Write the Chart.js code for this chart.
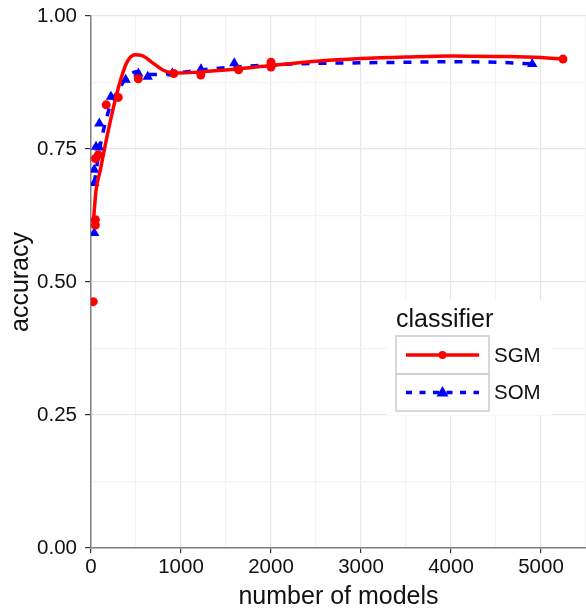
<!DOCTYPE html>
<html>
<head>
<meta charset="utf-8">
<script src="https://cdn.jsdelivr.net/npm/chart.js@4/dist/chart.umd.min.js"></script>
<style>
  html, body { margin: 0; padding: 0; background: #fff; }
  #wrap { width: 586px; height: 608px; position: relative; }
</style>
</head>
<body>
<div id="wrap"><canvas id="c"></canvas></div>
<script>
// observed points
const sgmModels = [25, 49, 49, 49, 81, 169, 303, 525, 920, 1220, 1640, 2000, 2000, 5244];
const sgmAcc    = [0.463, 0.607, 0.617, 0.732, 0.739, 0.833, 0.847, 0.882, 0.892, 0.889, 0.899, 0.904, 0.913, 0.919];
const somModels = [36, 36, 36, 56, 92, 92, 222, 385, 526, 630, 903, 1222, 1592, 2008, 4903];
const somAcc    = [0.592, 0.686, 0.711, 0.754, 0.753, 0.798, 0.848, 0.880, 0.892, 0.886, 0.892, 0.900, 0.911, 0.910, 0.910];

// smoothed curves
const sgmSmoothX = [25, 56, 100, 170, 245, 322, 396, 489, 560, 692, 803, 880, 1000, 1300, 1600, 2000, 2500, 3000, 3500, 4000, 4500, 5000, 5244];
const sgmSmoothY = [0.610, 0.672, 0.708, 0.767, 0.825, 0.876, 0.912, 0.927, 0.926, 0.911, 0.898, 0.894, 0.893, 0.896, 0.900, 0.907, 0.915, 0.920, 0.923, 0.925, 0.924, 0.922, 0.919];
const somSmoothX = [36, 100, 211, 303, 400, 507, 674, 900, 1200, 1500, 2000, 2500, 3000, 3500, 4000, 4500, 4903];
const somSmoothY = [0.686, 0.754, 0.830, 0.860, 0.885, 0.895, 0.890, 0.892, 0.898, 0.903, 0.908, 0.911, 0.912, 0.913, 0.914, 0.913, 0.910];

const seriesNames = ['SGM', 'SOM'];
const legendTitle = 'classifier';

const RED = '#ff0000', BLUE = '#0000ff';
const FONT = "'Liberation Sans', Arial, Helvetica, sans-serif";
const TXT = '#111';

function pts(xs, ys) { return xs.map((x, i) => ({ x: x, y: ys[i] })); }
function isQuarter(v) { return Math.abs(v * 4 - Math.round(v * 4)) < 1e-9; }

// ggplot-like legend box
const ggLegend = {
    id: 'ggLegend',
    afterDraw(chart) {
        const ctx = chart.ctx;
        ctx.save();
        ctx.fillStyle = '#fff';
        ctx.fillRect(387, 300, 165, 115);
        ctx.fillStyle = TXT;
        ctx.font = '25px ' + FONT;
        ctx.textBaseline = 'alphabetic';
        ctx.fillText(legendTitle, 396, 327);

        ctx.strokeStyle = '#cccccc';
        ctx.lineWidth = 1.5;
        ctx.strokeRect(396, 336, 93, 38);
        ctx.strokeRect(396, 374, 93, 37);

        // SGM key
        ctx.strokeStyle = RED;
        ctx.lineWidth = 3.5;
        ctx.beginPath(); ctx.moveTo(406, 355); ctx.lineTo(479, 355); ctx.stroke();
        ctx.fillStyle = RED;
        ctx.beginPath(); ctx.arc(442.5, 355, 4, 0, Math.PI * 2); ctx.fill();

        // SOM key
        ctx.strokeStyle = BLUE;
        ctx.setLineDash([6, 7.5]);
        ctx.beginPath(); ctx.moveTo(406, 392.5); ctx.lineTo(479, 392.5); ctx.stroke();
        ctx.setLineDash([]);
        ctx.fillStyle = BLUE;
        ctx.beginPath();
        ctx.moveTo(442.5, 386); ctx.lineTo(448.5, 396.5); ctx.lineTo(436.5, 396.5); ctx.closePath();
        ctx.fill();

        ctx.fillStyle = TXT;
        ctx.font = '20.5px ' + FONT;
        ctx.textBaseline = 'middle';
        ctx.fillText(seriesNames[0], 494, 356);
        ctx.fillText(seriesNames[1], 494, 393);
        ctx.restore();
    }
};

new Chart(document.getElementById('c').getContext('2d'), {
    type: 'scatter',
    data: {
        datasets: [
            {
                label: 'SGM smooth',
                data: pts(sgmSmoothX, sgmSmoothY),
                showLine: true,
                borderColor: RED,
                borderWidth: 3.5,
                pointRadius: 0,
                cubicInterpolationMode: 'monotone'
            },
            {
                label: 'SGM',
                data: pts(sgmModels, sgmAcc),
                pointStyle: 'circle',
                pointRadius: 4.5,
                backgroundColor: RED,
                borderColor: RED,
                borderWidth: 0
            },
            {
                label: 'SOM',
                data: pts(somModels, somAcc),
                pointStyle: 'triangle',
                pointRadius: 6,
                backgroundColor: BLUE,
                borderColor: BLUE,
                borderWidth: 0
            },
            {
                label: 'SOM smooth',
                data: pts(somSmoothX, somSmoothY),
                showLine: true,
                borderColor: BLUE,
                borderWidth: 3.5,
                borderDash: [8, 9],
                pointRadius: 0,
                cubicInterpolationMode: 'monotone'
            }
        ]
    },
    options: {
        responsive: true,
        maintainAspectRatio: false,
        animation: false,
        layout: { autoPadding: false, padding: { top: 16, right: 0, left: 0, bottom: 0 } },
        plugins: {
            legend: { display: false },
            tooltip: { enabled: false }
        },
        scales: {
            x: {
                type: 'linear',
                min: 0,
                max: 5500,
                afterFit: s => { s.height = 60; s.paddingLeft = 0; s.paddingRight = 0; },
                ticks: {
                    stepSize: 500,
                    autoSkip: false,
                    maxRotation: 0,
                    padding: 2,
                    color: TXT,
                    font: { family: FONT, size: 20.5 },
                    callback: v => (v % 1000 === 0 && v <= 5000) ? String(v) : ''
                },
                grid: {
                    color: c => (c.tick && c.tick.value % 1000 === 0) ? '#e6e6e6' : '#f4f4f4',
                    lineWidth: 1.2,
                    tickLength: 5,
                    tickColor: c => (c.tick && c.tick.value % 1000 === 0 && c.tick.value <= 5000) ? '#333' : 'rgba(0,0,0,0)'
                },
                border: { color: '#808080', width: 1.5 },
                title: {
                    display: true,
                    text: 'number of models',
                    color: TXT,
                    font: { family: FONT, size: 25, lineHeight: 0.9 },
                    padding: { top: 0, bottom: 0 }
                }
            },
            y: {
                min: 0,
                max: 1,
                afterFit: s => { s.width = 91; s.paddingTop = 0; s.paddingBottom = 0; },
                ticks: {
                    stepSize: 0.125,
                    autoSkip: false,
                    padding: 8,
                    color: TXT,
                    font: { family: FONT, size: 20.5 },
                    callback: v => isQuarter(v) ? v.toFixed(2) : ''
                },
                grid: {
                    color: c => (c.tick && isQuarter(c.tick.value)) ? '#e6e6e6' : '#f4f4f4',
                    lineWidth: 1.2,
                    tickLength: 6,
                    tickColor: c => (c.tick && isQuarter(c.tick.value)) ? '#333' : 'rgba(0,0,0,0)'
                },
                border: { color: '#808080', width: 1.5 },
                title: {
                    display: true,
                    text: 'accuracy',
                    color: TXT,
                    font: { family: FONT, size: 25, lineHeight: 0.9 },
                    padding: { top: 10, bottom: 0 }
                }
            }
        }
    },
    plugins: [ggLegend]
});
</script>
</body>
</html>
